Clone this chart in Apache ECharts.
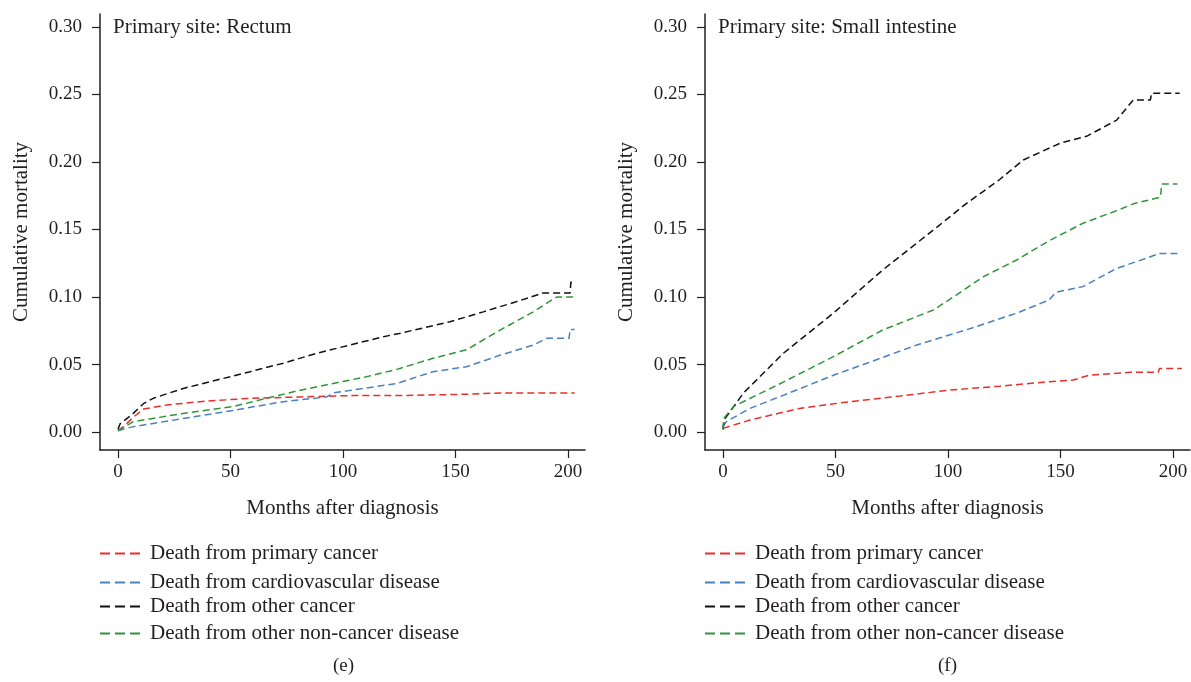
<!DOCTYPE html>
<html>
<head>
<meta charset="utf-8">
<script src="https://cdn.jsdelivr.net/npm/echarts@6/dist/echarts.min.js"></script>
<style>
  html, body { margin: 0; padding: 0; background: #fff; }
  #main { width: 1191px; height: 682px; }
</style>
</head>
<body>
<div id="main"></div>
<script>
// series names
const causes = [
  "Death from primary cancer",
  "Death from cardiovascular disease",
  "Death from other cancer",
  "Death from other non-cancer disease",
];
const colors = ["#e5302a", "#4a80bd", "#111111", "#2f9638"];

const xTicks = [0, 50, 100, 150, 200];
const yTicks = [0, 0.05, 0.1, 0.15, 0.2, 0.25, 0.3];

// (e) Rectum: [month, cumulative mortality]
const rectumPrimary = [
  [0, 0.001], [2.4, 0.004], [6.8, 0.011], [11.3, 0.017], [21.6, 0.020],
  [36.4, 0.0225], [58.7, 0.025], [81, 0.026], [103, 0.027], [125, 0.027],
  [155, 0.028], [170, 0.029], [203, 0.029],
];
const rectumCardio = [
  [0, 0.001], [6.8, 0.004], [29, 0.010], [51, 0.016], [73.5, 0.0225],
  [92.7, 0.026], [95.7, 0.029], [124, 0.036], [140, 0.0447], [155, 0.0484],
  [170, 0.057], [184.6, 0.0644], [190.5, 0.0694], [200.5, 0.0694],
  [201, 0.076], [203, 0.076],
];
const rectumOther = [
  [0, 0.002], [0.9, 0.006], [6.8, 0.0138], [11.3, 0.021], [15.7, 0.025],
  [29, 0.0323], [43.9, 0.0385], [58.7, 0.0447], [73.5, 0.051], [88.3, 0.0583],
  [103, 0.0644], [118, 0.0706], [125, 0.073], [147.6, 0.0817], [162.4, 0.089],
  [177, 0.0965], [189, 0.103], [201, 0.103], [201.3, 0.111], [203, 0.111],
];
const rectumNonCancer = [
  [0, 0.001], [6.8, 0.0077], [29, 0.0138], [51, 0.0188], [66, 0.025],
  [81, 0.031], [95.7, 0.036], [110.5, 0.041], [124, 0.0464], [140, 0.0546],
  [155, 0.061], [170, 0.0756], [184.6, 0.089], [195, 0.100], [203, 0.100],
];

// (f) Small intestine
const smallPrimary = [
  [0, 0.0027], [12, 0.0089], [34, 0.0175], [56.4, 0.0225], [78.7, 0.0267],
  [101, 0.0311], [123, 0.034], [145.3, 0.0373], [155.7, 0.0385], [163, 0.0422],
  [181, 0.0442], [193.5, 0.0442], [194, 0.047], [204, 0.047],
];
const smallCardio = [
  [0, 0.004], [1.5, 0.0077], [12, 0.0175], [31, 0.030], [49, 0.042],
  [64, 0.051], [86, 0.0644], [108, 0.0756], [130.5, 0.088], [145, 0.0978],
  [148, 0.1035], [160, 0.1077], [175, 0.1212], [188, 0.1286], [194, 0.1323],
  [203, 0.1323],
];
const smallOther = [
  [0, 0.002], [0.5, 0.009], [9, 0.0287], [26.8, 0.0583], [49, 0.088],
  [71, 0.120], [93.5, 0.1496], [108, 0.169], [123, 0.187], [133.5, 0.2015],
  [150, 0.214], [161.6, 0.219], [175, 0.231], [182.4, 0.246], [190, 0.246],
  [190.5, 0.251], [203, 0.251],
];
const smallNonCancer = [
  [0, 0.002], [0.3, 0.010], [4.6, 0.0188], [26.8, 0.037], [49, 0.0558],
  [71, 0.0756], [93.5, 0.0904], [102.4, 0.100], [115.7, 0.115], [130.5, 0.1274],
  [145.3, 0.142], [160, 0.1546], [175, 0.164], [182.4, 0.169], [194.5, 0.174],
  [195, 0.1837], [202, 0.1837],
];

const panels = [
  { left: 100, title: "Primary site: Rectum", tag: "(e)",
    data: [rectumPrimary, rectumCardio, rectumOther, rectumNonCancer] },
  { left: 705, title: "Primary site: Small intestine", tag: "(f)",
    data: [smallPrimary, smallCardio, smallOther, smallNonCancer] },
];

const font = "Liberation Serif";
const textColor = "#231f20";
const legendTops = [543, 572, 596, 623];
// three short dashes for the legend key
const dashIcon = "path://M0,0L10,0L10,2L0,2Z M15,0L25,0L25,2L15,2Z M30,0L40,0L40,2L30,2Z";

let chartDom = document.getElementById("main");
let myChart = echarts.init(chartDom);

let grid = [], xAxis = [], yAxis = [], series = [], legend = [], graphic = [];

panels.forEach(function (p, i) {
  grid.push({ left: p.left, top: 14, width: 485, height: 436 });
  xAxis.push({
    type: "value",
    gridIndex: i,
    min: -8,
    max: 207.6,
    name: "Months after diagnosis",
    nameLocation: "middle",
    nameGap: 48,
    nameTextStyle: { fontFamily: font, fontSize: 21, color: textColor },
    splitLine: { show: false },
    axisLine: { onZero: false, lineStyle: { color: "#231f20", width: 1.5 } },
    axisTick: { customValues: xTicks, length: 8, lineStyle: { color: "#231f20", width: 1.2 } },
    axisLabel: { customValues: xTicks, margin: 13, fontFamily: font, fontSize: 19, color: textColor },
  });
  yAxis.push({
    type: "value",
    gridIndex: i,
    min: -0.0133,
    max: 0.3096,
    name: "Cumulative mortality",
    nameLocation: "middle",
    nameGap: 68,
    nameTextStyle: { fontFamily: font, fontSize: 21, color: textColor },
    splitLine: { show: false },
    axisLine: { onZero: false, lineStyle: { color: "#231f20", width: 1.5 } },
    axisTick: { customValues: yTicks, length: 8, lineStyle: { color: "#231f20", width: 1.2 } },
    axisLabel: {
      customValues: yTicks, margin: 18, fontFamily: font, fontSize: 19, color: textColor,
      formatter: function (v) { return v.toFixed(2); },
    },
  });
  p.data.forEach(function (d, k) {
    series.push({
      name: causes[k],
      type: "line",
      xAxisIndex: i,
      yAxisIndex: i,
      data: d,
      symbol: "none",
      lineStyle: { color: colors[k], width: 1.5, type: [7, 4] },
      itemStyle: { color: colors[k] },
    });
  });
  causes.forEach(function (c, k) {
    legend.push({
      data: [c],
      left: p.left,
      top: legendTops[k],
      padding: 0,
      itemWidth: 40,
      itemHeight: 2,
      icon: dashIcon,
      selectedMode: false,
      textStyle: { fontFamily: font, fontSize: 21, color: textColor, padding: [0, 0, 0, 5] },
    });
  });
  graphic.push({
    type: "text",
    left: p.left + 13,
    top: 17,
    style: { text: p.title, font: "21px 'Liberation Serif'", fill: textColor },
  });
  graphic.push({
    type: "text",
    left: p.left + 233,
    top: 657,
    style: { text: p.tag, font: "19px 'Liberation Serif'", fill: textColor },
  });
});

let option = {
  animation: false,
  backgroundColor: "#fff",
  grid: grid,
  xAxis: xAxis,
  yAxis: yAxis,
  legend: legend,
  graphic: graphic,
  series: series,
};
option && myChart.setOption(option);
</script>
</body>
</html>
